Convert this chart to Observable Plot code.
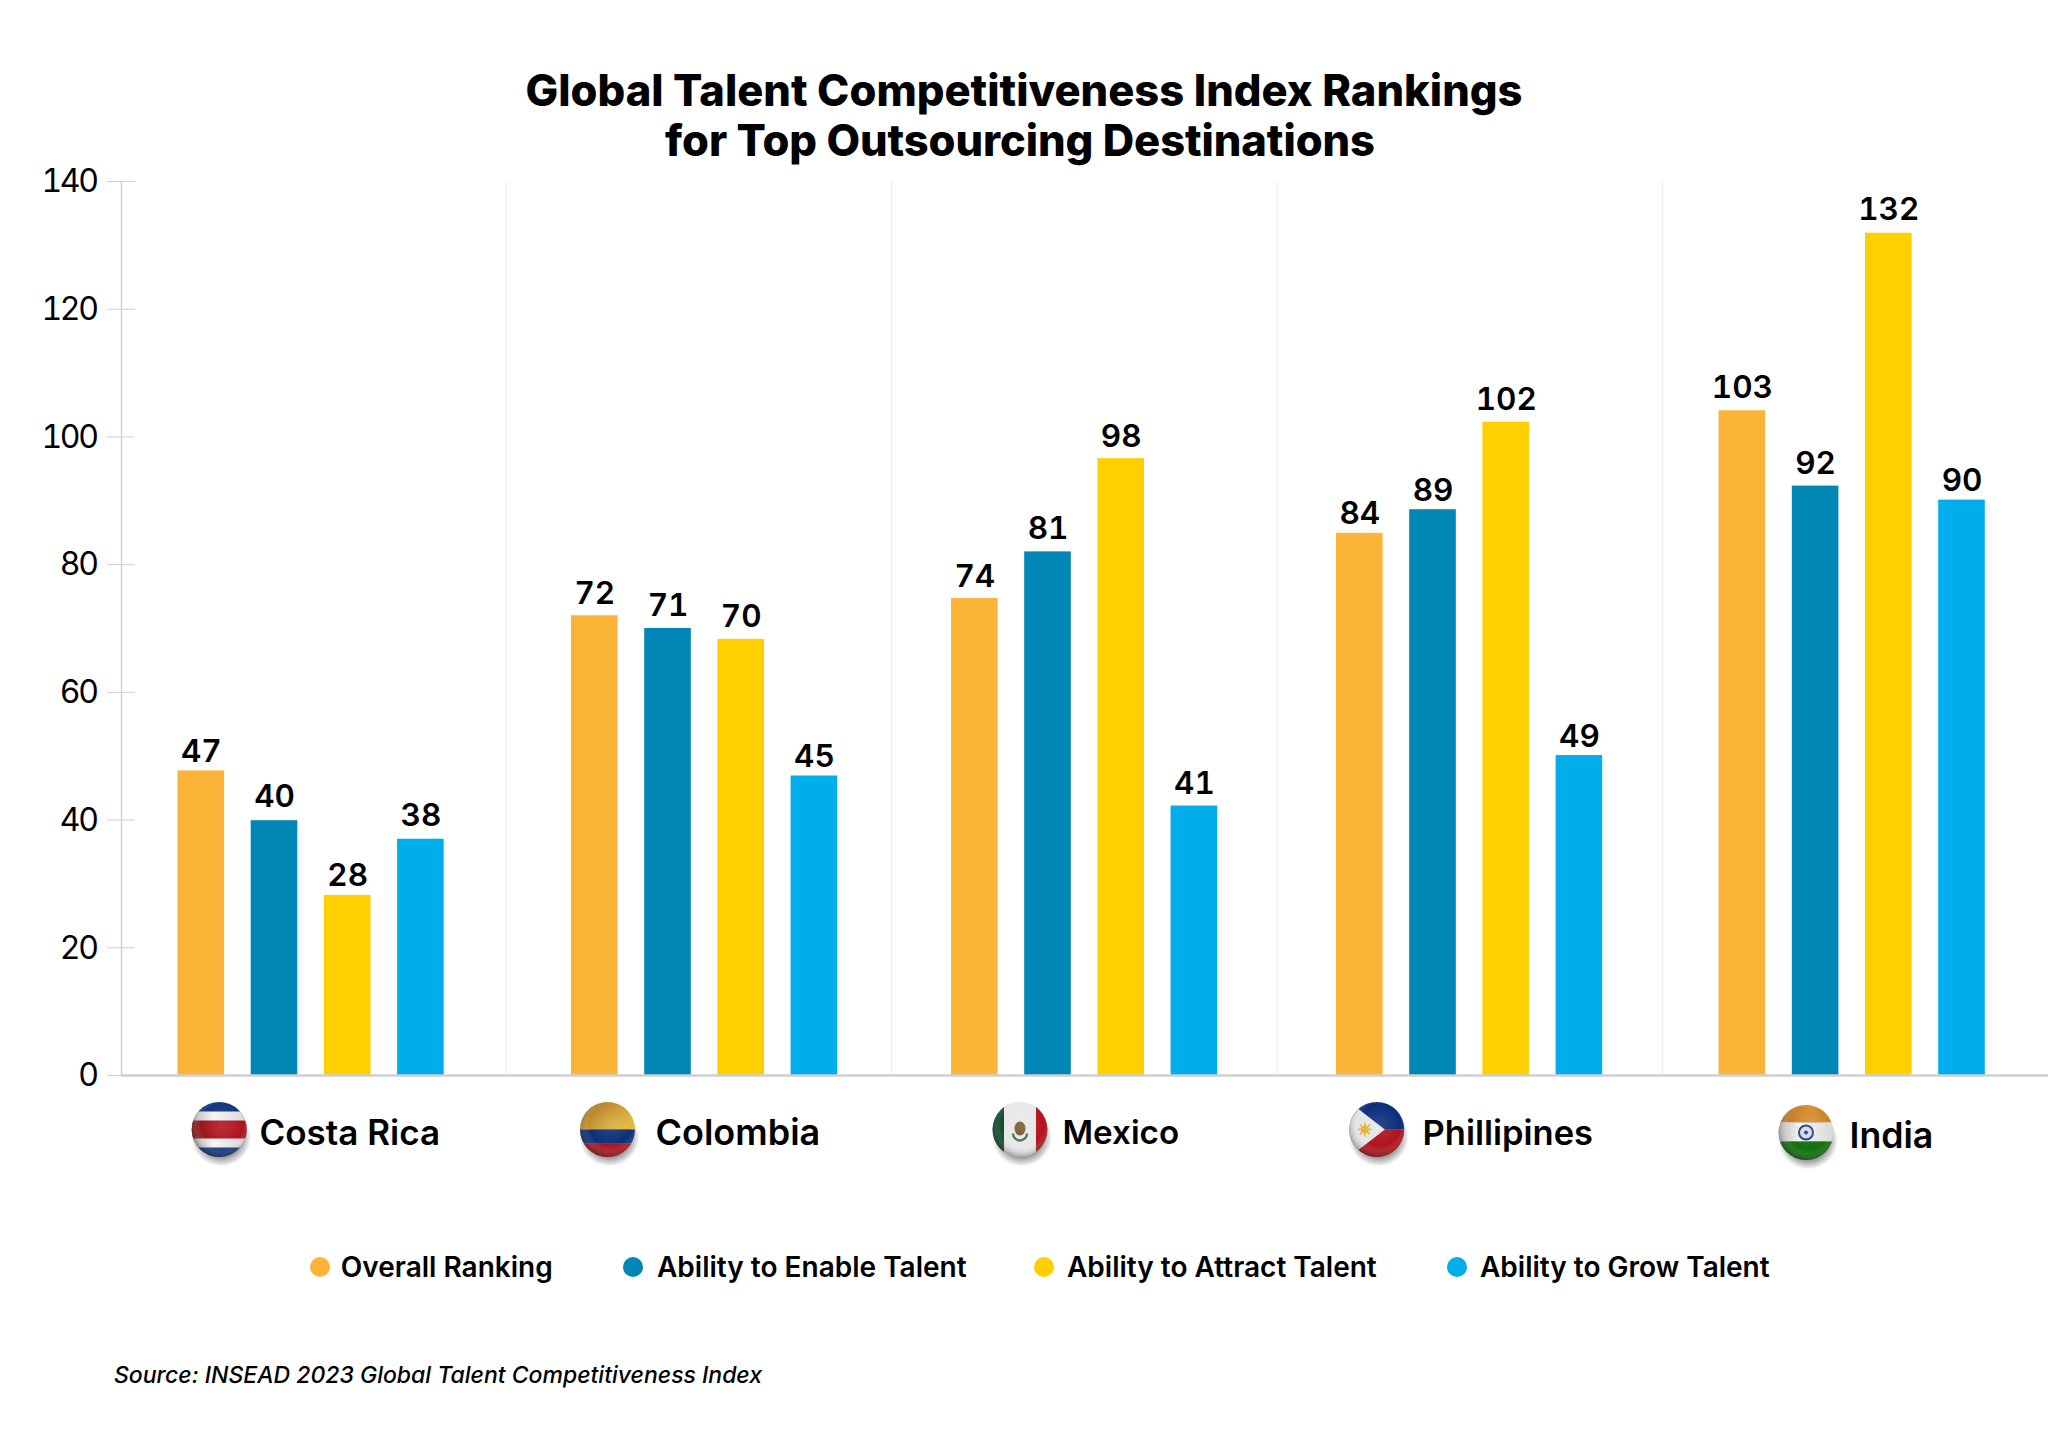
<!DOCTYPE html>
<html>
<head>
<meta charset="utf-8">
<script src="https://cdn.jsdelivr.net/npm/d3@7"></script>
<script src="https://cdn.jsdelivr.net/npm/@observablehq/plot@0.6"></script>
<style>
html,body{margin:0;padding:0;background:#fff;}
body{position:relative;width:2048px;height:1438px;overflow:hidden;font-family:Inter,"Noto Sans",sans-serif;color:#000;}
#title{position:absolute;left:0;top:65px;width:2048px;text-align:center;font-size:43.5px;font-weight:800;line-height:50px;}
#title span{position:relative;left:-4px;letter-spacing:-.08px;}
#chart{position:absolute;left:0;top:0;}
#chart [aria-label="y-axis tick label"]{letter-spacing:-2.4px;}
.lg{position:absolute;top:1250px;height:34px;line-height:34px;font-size:28px;font-weight:600;white-space:nowrap;}
.lg i{position:absolute;top:7px;width:20px;height:20px;border-radius:50%;}
#source{position:absolute;left:114px;top:1360px;font-size:23px;font-style:italic;font-weight:500;line-height:30px;}
</style>
</head>
<body>
<div id="title">Global Talent Competitiveness Index Rankings<br><span>for Top Outsourcing Destinations</span></div>
<div id="chart"></div>
<div id="legend"></div>
<div id="source">Source: INSEAD 2023 Global Talent Competitiveness Index</div>
<script>
const countries = ["Costa Rica", "Colombia", "Mexico", "Phillipines", "India"];
const metrics = ["Overall Ranking", "Ability to Enable Talent", "Ability to Attract Talent", "Ability to Grow Talent"];
const colors = ["#FBB438", "#0087B5", "#FFCF00", "#00AEEB"];

// bar heights as drawn in the picture
const overallBars = [47.7, 72, 74.7, 84.9, 104.1];
const enableBars = [39.9, 70, 82, 88.6, 92.3];
const attractBars = [28.2, 68.3, 96.6, 102.3, 131.9];
const growBars = [37, 46.9, 42.2, 50.1, 90.1];

// printed labels
const overallLabels = [47, 72, 74, 84, 103];
const enableLabels = [40, 71, 81, 89, 92];
const attractLabels = [28, 70, 98, 102, 132];
const growLabels = [38, 45, 41, 49, 90];

const yTicks = [0, 20, 40, 60, 80, 100, 120, 140];

// layout only
const groupLeft = [177.5, 571, 951, 1336, 1718.6];
const separators = [505.7, 891, 1276.7, 1662];
const flagCenter = [218.7, 607, 1019.5, 1376.3, 1805.5];
const flagDy = [57, 57, 57, 57, 60];
const nameLeft = [259, 655, 1062, 1422, 1849];
const nameDy = [58, 58, 58, 58, 61];
const nameSize = [35, 36, 33.2, 34.5, 35.7];
const labelNudge = [[4, -1, 3, 0], [1, 0, 1, 4], [1, 0, 1, 1], [4, 4, 1, 4], [0, 1, 0, 4]];
const legendDot = [320, 632.7, 1044, 1457];
const legendText = [340.8, 657, 1067, 1480];

const bars = [overallBars, enableBars, attractBars, growBars];
const labels = [overallLabels, enableLabels, attractLabels, growLabels];
const rows = countries.map((c, i) => metrics.map((m, j) => ({country: c, metric: m, value: bars[j][i], label: labels[j][i]})));

function svgUri(body) {
  const s = `<svg xmlns="http://www.w3.org/2000/svg" width="90" height="90" viewBox="-45 -42 90 90">
  <defs>
   <clipPath id="c"><circle r="27.5"/></clipPath>
   <radialGradient id="shade" cx="0.55" cy="0.42" r="0.62">
     <stop offset="0" stop-color="#fff" stop-opacity=".12"/>
     <stop offset=".62" stop-color="#fff" stop-opacity="0"/>
     <stop offset="1" stop-color="#000" stop-opacity=".42"/>
   </radialGradient>
   <radialGradient id="sh"><stop offset=".6" stop-color="#000" stop-opacity=".5"/><stop offset="1" stop-color="#000" stop-opacity="0"/></radialGradient>
   <linearGradient id="gold" x1="0" x2="1" y1="0" y2=".6"><stop offset="0" stop-color="#a86c28"/><stop offset="1" stop-color="#e2b83c"/></linearGradient>
   <linearGradient id="saff" x1="0" x2="1"><stop offset="0" stop-color="#b9752b"/><stop offset=".6" stop-color="#d89030"/><stop offset="1" stop-color="#c47c2a"/></linearGradient>
   <linearGradient id="wht" x1="0" x2="1"><stop offset="0" stop-color="#b8b8b8"/><stop offset=".4" stop-color="#f4f4f4"/><stop offset="1" stop-color="#d8d8d8"/></linearGradient>
   <linearGradient id="red" x1="0" x2="1"><stop offset="0" stop-color="#8a1a20"/><stop offset=".5" stop-color="#b0131f"/><stop offset="1" stop-color="#b0131f"/></linearGradient>
  </defs>
  <ellipse cx="2" cy="8" rx="30" ry="29" fill="url(#sh)"/>
  <g clip-path="url(#c)">${body}</g>
  <circle r="27.5" fill="url(#shade)"/>
  </svg>`;
  return "data:image/svg+xml;charset=utf-8," + encodeURIComponent(s);
}
const flags = [
  svgUri(`<rect x="-28" y="-28" width="56" height="56" fill="#14387f"/><rect x="-28" y="-18" width="56" height="36" fill="url(#wht)"/><rect x="-28" y="-9" width="56" height="18" fill="url(#red)"/>`),
  svgUri(`<rect x="-28" y="-28" width="56" height="28" fill="url(#gold)"/><rect x="-28" y="0" width="56" height="14" fill="#0b2f78"/><rect x="-28" y="14" width="56" height="14" fill="#ad1520"/>`),
  svgUri(`<rect x="-28" y="-28" width="12" height="56" fill="#0f4d30"/><rect x="-16" y="-28" width="32" height="56" fill="#e8e8e8"/><rect x="16" y="-28" width="12" height="56" fill="#b4141f"/><ellipse cy="-1" rx="5.5" ry="7" fill="#7b5a30"/><path d="M-7 4A7 7 0 0 0 7 4" fill="none" stroke="#3f7d55" stroke-width="2.4"/>`),
  svgUri(`<rect x="-28" y="-28" width="56" height="28" fill="#0c2f7c"/><rect x="-28" y="0" width="56" height="28" fill="#b11320"/><path d="M-28-28L8 0L-28 28Z" fill="#e6e6e6"/><circle cx="-12" r="4" fill="#e6b23a"/><g stroke="#e6b23a" stroke-width="1.6"><path d="M-19 0H-5M-12-7V7M-17-5L-7 5M-17 5L-7-5"/></g>`),
  svgUri(`<rect x="-28" y="-28" width="56" height="18" fill="url(#saff)"/><rect x="-28" y="-10" width="56" height="19" fill="url(#wht)"/><rect x="-28" y="9" width="56" height="19" fill="#12700e"/><circle r="7" fill="#cfdbe8" stroke="#1d3f80" stroke-width="2"/><circle r="2" fill="#1d3f80"/>`)
];

const axisGrey = "#cfcfcf";
const x0 = 177.5;                       // left edge of the first group
const bandW = 46.6, stepW = 73.2;
const firstCentre = x0 + bandW / 2;     // centre of the first band of the x scale

const plot = Plot.plot({
  width: 2048,
  height: 1200,
  marginTop: 181,
  marginBottom: 125,
  marginLeft: 121,
  marginRight: 0,
  style: {fontFamily: 'Inter, "Noto Sans", sans-serif', background: "transparent", color: "#000", overflow: "visible"},
  x: {domain: metrics, type: "band", range: [x0, x0 + 3 * stepW + bandW], paddingInner: 1 - bandW / stepW, paddingOuter: 0, round: false, axis: null},
  y: {domain: [0, 140], label: null},
  color: {domain: metrics, range: colors},
  marks: [
    ...separators.map(px => Plot.ruleX([metrics[0]], {x: d => d, dx: px - firstCentre, stroke: "#ececec", strokeWidth: 1})),
    Plot.frame({anchor: "left", stroke: axisGrey, strokeWidth: 1.5}),
    Plot.axisY({ticks: yTicks, text: null, tickSize: 14, stroke: axisGrey, label: null}),
    Plot.axisY({ticks: yTicks, tickSize: 0, tickPadding: 25, dy: 0.5, fontSize: 32, fontWeight: 400, color: "#000", label: null, tickFormat: d => d}),
    Plot.ruleY(yTicks.slice(1), {y: d => d, stroke: axisGrey, strokeWidth: 1, insetRight: 2048 - 135}),
    ...rows.map((r, i) => Plot.barY(r, {x: "metric", y: "value", fill: "metric", dx: groupLeft[i] - x0, title: d => `${d.country} – ${d.metric}: ${d.label}`})),
    Plot.ruleY([0], {stroke: axisGrey, strokeWidth: 2.5}),
    ...rows.flatMap((r, i) => r.map((d, j) => Plot.text([d], {x: "metric", y: "value", text: "label", dx: groupLeft[i] - x0, dy: -23 + labelNudge[i][j], fontSize: 31.5, fontWeight: 600, fill: "#000"}))),
    ...countries.map((c, i) => Plot.image([c], {x: () => metrics[0], y: () => 0, dx: flagCenter[i] - firstCentre, dy: flagDy[i], width: 90, height: 90, src: () => flags[i]})),
    ...countries.map((c, i) => Plot.text([c], {x: () => metrics[0], y: () => 0, dx: nameLeft[i] - firstCentre, dy: nameDy[i], text: d => d, textAnchor: "start", fontSize: nameSize[i], fontWeight: 600, fill: "#000"}))
  ]
});
document.getElementById("chart").append(plot);

const legend = document.getElementById("legend");
metrics.forEach((m, j) => {
  const el = document.createElement("div");
  el.className = "lg";
  el.style.left = legendText[j] + "px";
  el.textContent = m;
  const dot = document.createElement("i");
  dot.style.background = colors[j];
  dot.style.left = (legendDot[j] - legendText[j] - 10) + "px";
  el.append(dot);
  legend.append(el);
});
</script>
</body>
</html>
